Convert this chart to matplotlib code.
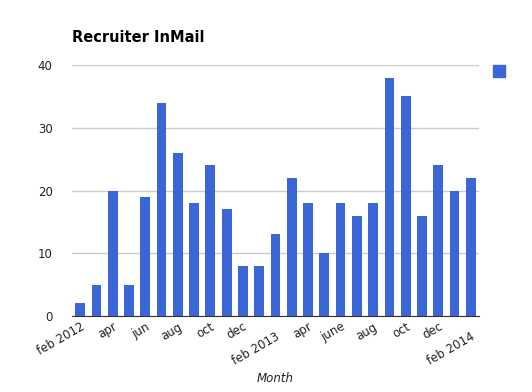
import matplotlib.pyplot as plt
import matplotlib.transforms as mtransforms

months = ['feb 2012', 'mar', 'apr', 'may', 'jun', 'jul', 'aug', 'sep', 'oct', 'nov', 'dec', 'jan',
          'feb 2013', 'mar', 'apr', 'may', 'june', 'jul', 'aug', 'sep', 'oct', 'nov', 'dec', 'jan',
          'feb 2014']
inmail = [2, 5, 20, 5, 19, 34, 26, 18, 24, 17, 8, 8,
          13, 22, 18, 10, 18, 16, 18, 38, 35, 16, 24, 20, 22]
yticks = [0, 10, 20, 30, 40]

blue = '#3b67d6'

fig = plt.figure(figsize=(5.32, 3.92), dpi=100)
ax = fig.add_axes([0.1353, 0.194, 0.765, 0.64])

x = list(range(len(months)))
ax.bar(x, inmail, width=0.6, color=blue, zorder=3)

ax.set_xlim(-0.5, len(months) - 0.5)
ax.set_ylim(0, 40)
ax.set_yticks(yticks)
ax.yaxis.grid(True, color='#cccccc', linewidth=1, zorder=0)
ax.tick_params(axis='both', length=0, labelsize=8.5, colors='#222222')
ax.tick_params(axis='y', pad=14)
ax.tick_params(axis='x', pad=3)

# every other month gets a label
ax.set_xticks(x[::2])
ax.set_xticklabels(months[::2], rotation=30, ha='right', rotation_mode='anchor')
for lab in ax.get_xticklabels():
    if lab.get_text() in ('feb 2013', 'feb 2014'):
        lab.set_transform(lab.get_transform() + mtransforms.ScaledTranslation(0, -7 / 72, fig.dpi_scale_trans))

for s in ['top', 'right', 'left']:
    ax.spines[s].set_visible(False)
ax.spines['bottom'].set_color('#333333')
ax.spines['bottom'].set_zorder(4)

fig.text(275 / 532, 1 - 378 / 392, 'Month', fontsize=8.5, style='italic', color='#222222',
         ha='center', va='center')
fig.text(72 / 532, 1 - 37 / 392, 'Recruiter InMail', fontsize=10.5, fontweight='bold', va='center')

# legend swatch, text is cut off at the right edge
fig.patches.append(plt.Rectangle((493 / 532, 1 - 77 / 392), 12 / 532, 12 / 392,
                                 transform=fig.transFigure, color=blue))

fig.savefig('out.png', dpi=100)
